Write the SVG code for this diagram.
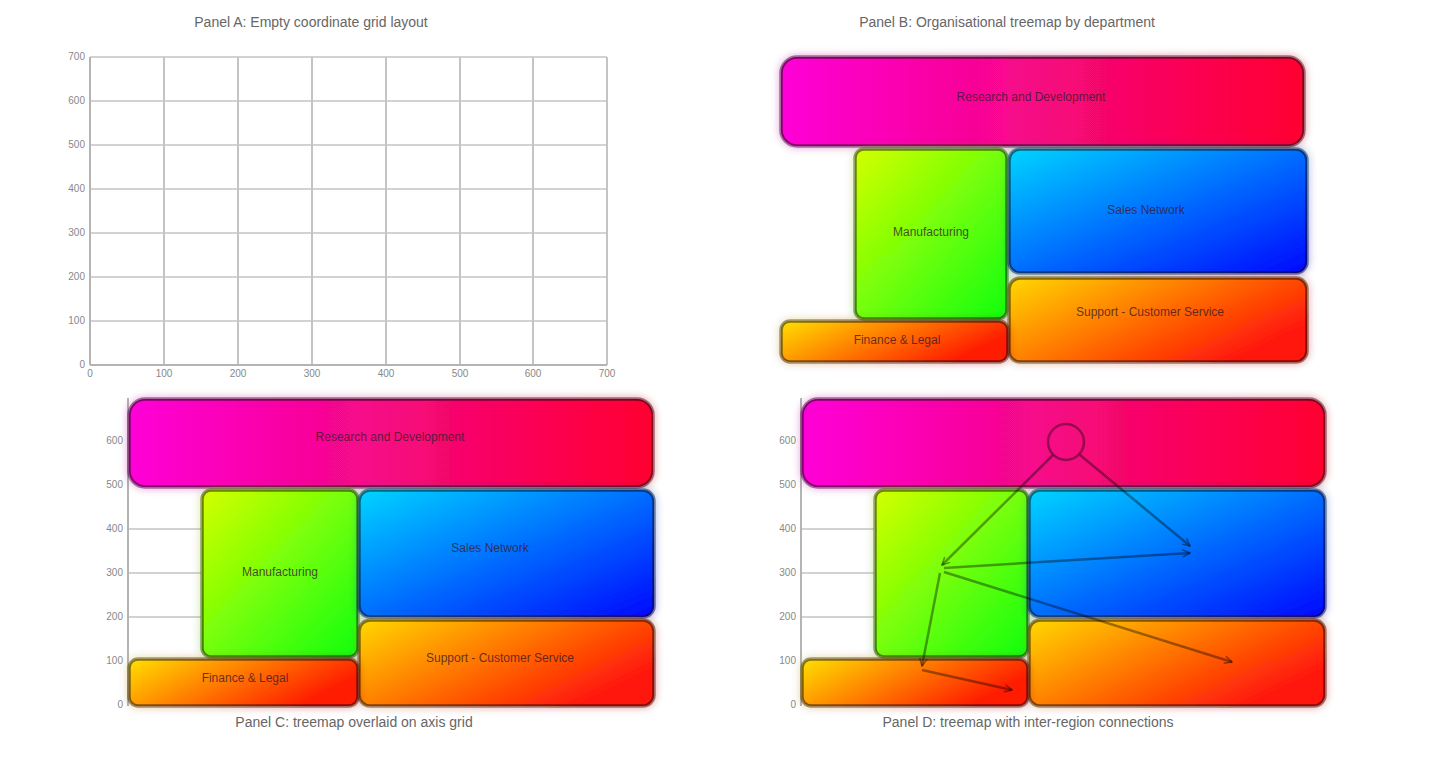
<svg xmlns="http://www.w3.org/2000/svg" width="1441" height="761" viewBox="0 0 1441 761">
<style>
.title{font-family:"Liberation Sans",Arial,sans-serif;font-size:14px;fill:#666;text-anchor:middle}
.tick{font-family:"Liberation Sans",Arial,sans-serif;font-size:10px;fill:#888}
.tl{text-anchor:end}
.tb{text-anchor:middle}
.gv{stroke:#c4c4c4;stroke-width:2}
.gh{stroke:#d2d2d2;stroke-width:2}
.ax{stroke:#b4b4b4;stroke-width:2}
.box{stroke:#000;stroke-opacity:0.48;stroke-width:3.5;filter:url(#glow)}
.lbl{font-family:"Liberation Sans",Arial,sans-serif;font-size:12px;fill:#3a1a2a;fill-opacity:0.8;text-anchor:middle}
.edge{fill:none;stroke:#000;stroke-opacity:0.38;stroke-width:2.5;marker-end:url(#arr)}
</style>
<defs>
<linearGradient id="gMag" x1="0" y1="0" x2="1" y2="0">
<stop offset="0" stop-color="#ff00d8"/><stop offset="0.5" stop-color="#f50880"/><stop offset="1" stop-color="#ff0030"/>
</linearGradient>
<linearGradient id="gGreen" x1="0" y1="0" x2="1" y2="1">
<stop offset="0" stop-color="#d4ff00"/><stop offset="1" stop-color="#10ff10"/>
</linearGradient>
<linearGradient id="gBlue" x1="0" y1="0" x2="1" y2="1">
<stop offset="0" stop-color="#00d4ff"/><stop offset="1" stop-color="#0008ff"/>
</linearGradient>
<linearGradient id="gOrange" x1="0" y1="0" x2="1" y2="0.6">
<stop offset="0" stop-color="#ffd800"/><stop offset="1" stop-color="#ff1408"/>
</linearGradient>
<linearGradient id="gYellow" x1="0" y1="0" x2="1" y2="0.4">
<stop offset="0" stop-color="#ffe000"/><stop offset="1" stop-color="#ff1a00"/>
</linearGradient>
<filter id="glow" x="-10%" y="-25%" width="120%" height="150%">
<feGaussianBlur in="SourceGraphic" stdDeviation="4" result="b"/>
<feComponentTransfer in="b" result="b2"><feFuncA type="linear" slope="0.45"/></feComponentTransfer>
<feMerge><feMergeNode in="b2"/><feMergeNode in="SourceGraphic"/></feMerge>
</filter>
<marker id="arr" viewBox="0 0 12 12" refX="11" refY="6" markerWidth="9" markerHeight="9" orient="auto" markerUnits="userSpaceOnUse">
<path d="M1,1 L11,6 L1,11" fill="none" stroke="#000" stroke-opacity="0.4" stroke-width="2"/>
</marker>
</defs>
<rect width="1441" height="761" fill="#fff"/>

<!-- Panel A: grid -->
<g id="panelA">
<text class="title" x="311" y="27">Panel A: Empty coordinate grid layout</text>
<g id="gridA">
<line class="gh" x1="90" y1="57" x2="607" y2="57"/>
<line class="gh" x1="90" y1="101" x2="607" y2="101"/>
<line class="gh" x1="90" y1="145" x2="607" y2="145"/>
<line class="gh" x1="90" y1="189" x2="607" y2="189"/>
<line class="gh" x1="90" y1="233" x2="607" y2="233"/>
<line class="gh" x1="90" y1="277" x2="607" y2="277"/>
<line class="gh" x1="90" y1="321" x2="607" y2="321"/>
<line class="gv" x1="164" y1="57" x2="164" y2="365"/>
<line class="gv" x1="238" y1="57" x2="238" y2="365"/>
<line class="gv" x1="312" y1="57" x2="312" y2="365"/>
<line class="gv" x1="386" y1="57" x2="386" y2="365"/>
<line class="gv" x1="460" y1="57" x2="460" y2="365"/>
<line class="gv" x1="533" y1="57" x2="533" y2="365"/>
<line class="gv" x1="607" y1="57" x2="607" y2="365"/>
<line class="ax" x1="90" y1="57" x2="90" y2="365"/>
<line class="ax" x1="90" y1="365" x2="607" y2="365"/>
</g>
<g id="ticksA">
<text class="tick tl" x="85" y="368">0</text>
<text class="tick tl" x="85" y="324">100</text>
<text class="tick tl" x="85" y="280">200</text>
<text class="tick tl" x="85" y="236">300</text>
<text class="tick tl" x="85" y="192">400</text>
<text class="tick tl" x="85" y="148">500</text>
<text class="tick tl" x="85" y="104">600</text>
<text class="tick tl" x="85" y="60">700</text>
<text class="tick tb" x="90" y="377">0</text>
<text class="tick tb" x="164" y="377">100</text>
<text class="tick tb" x="238" y="377">200</text>
<text class="tick tb" x="312" y="377">300</text>
<text class="tick tb" x="386" y="377">400</text>
<text class="tick tb" x="460" y="377">500</text>
<text class="tick tb" x="533" y="377">600</text>
<text class="tick tb" x="607" y="377">700</text>
</g>
</g>

<!-- Panel B: treemap -->
<g id="panelB">
<text class="title" x="1007" y="27">Panel B: Organisational treemap by department</text>
<g id="b-research"><rect class="box" x="781" y="57" width="523" height="89" rx="16" fill="url(#gMag)"/><text class="lbl" x="1031" y="101">Research and Development</text></g>
<g id="b-manufacturing"><rect class="box" x="855" y="149" width="152" height="170" rx="9" fill="url(#gGreen)"/><text class="lbl" x="931" y="236">Manufacturing</text></g>
<g id="b-sales"><rect class="box" x="1009" y="149" width="298" height="124" rx="11" fill="url(#gBlue)"/><text class="lbl" x="1146" y="214">Sales Network</text></g>
<g id="b-support"><rect class="box" x="1009" y="278" width="298" height="84" rx="11" fill="url(#gOrange)"/><text class="lbl" x="1150" y="316">Support - Customer Service</text></g>
<g id="b-finance"><rect class="box" x="781" y="321" width="227" height="41" rx="9" fill="url(#gYellow)"/><text class="lbl" x="897" y="344">Finance &amp; Legal</text></g>
</g>

<!-- Panel C: treemap on axes -->
<g id="panelC">
<g id="gridC">
<line class="gh" x1="128" y1="529" x2="201" y2="529"/>
<line class="gh" x1="128" y1="573" x2="201" y2="573"/>
<line class="gh" x1="128" y1="617" x2="201" y2="617"/>
<line class="ax" x1="128" y1="398" x2="128" y2="706"/>
</g>
<g id="ticksC">
<text class="tick tl" x="123" y="444">600</text>
<text class="tick tl" x="123" y="488">500</text>
<text class="tick tl" x="123" y="532">400</text>
<text class="tick tl" x="123" y="576">300</text>
<text class="tick tl" x="123" y="620">200</text>
<text class="tick tl" x="123" y="664">100</text>
<text class="tick tl" x="123" y="708">0</text>
</g>
<g id="c-research"><rect class="box" x="129" y="399" width="524" height="88" rx="16" fill="url(#gMag)"/><text class="lbl" x="390" y="441">Research and Development</text></g>
<g id="c-manufacturing"><rect class="box" x="202" y="490" width="156" height="167" rx="9" fill="url(#gGreen)"/><text class="lbl" x="280" y="576">Manufacturing</text></g>
<g id="c-sales"><rect class="box" x="359" y="490" width="295" height="127" rx="11" fill="url(#gBlue)"/><text class="lbl" x="490" y="552">Sales Network</text></g>
<g id="c-support"><rect class="box" x="359" y="620" width="295" height="86" rx="11" fill="url(#gOrange)"/><text class="lbl" x="500" y="662">Support - Customer Service</text></g>
<g id="c-finance"><rect class="box" x="129" y="659" width="229" height="47" rx="9" fill="url(#gYellow)"/><text class="lbl" x="245" y="682">Finance &amp; Legal</text></g>
<text class="title" x="354" y="727">Panel C: treemap overlaid on axis grid</text>
</g>

<!-- Panel D: treemap with connections -->
<g id="panelD">
<g id="gridD">
<line class="gh" x1="801" y1="529" x2="874" y2="529"/>
<line class="gh" x1="801" y1="573" x2="874" y2="573"/>
<line class="gh" x1="801" y1="617" x2="874" y2="617"/>
<line class="ax" x1="801" y1="398" x2="801" y2="706"/>
</g>
<g id="ticksD">
<text class="tick tl" x="796" y="444">600</text>
<text class="tick tl" x="796" y="488">500</text>
<text class="tick tl" x="796" y="532">400</text>
<text class="tick tl" x="796" y="576">300</text>
<text class="tick tl" x="796" y="620">200</text>
<text class="tick tl" x="796" y="664">100</text>
<text class="tick tl" x="796" y="708">0</text>
</g>
<g id="d-research"><rect class="box" x="802" y="399" width="523" height="88" rx="16" fill="url(#gMag)"/></g>
<g id="d-manufacturing"><rect class="box" x="875" y="490" width="153" height="167" rx="9" fill="url(#gGreen)"/></g>
<g id="d-sales"><rect class="box" x="1029" y="490" width="296" height="127" rx="11" fill="url(#gBlue)"/></g>
<g id="d-support"><rect class="box" x="1029" y="620" width="296" height="86" rx="11" fill="url(#gOrange)"/></g>
<g id="d-finance"><rect class="box" x="802" y="659" width="226" height="47" rx="9" fill="url(#gYellow)"/></g>
<g id="connectors">
<circle cx="1066" cy="442" r="18" fill="none" stroke="#000" stroke-opacity="0.38" stroke-width="2.5"/>
<path class="edge" d="M1053,455 L942,565"/>
<path class="edge" d="M1080,455 L1190,546"/>
<path class="edge" d="M944,568 L1190,553"/>
<path class="edge" d="M944,572 L1232,662"/>
<path class="edge" d="M940,573 L922,666"/>
<path class="edge" d="M922,670 L1012,690"/>
</g>
<text class="title" x="1028" y="727">Panel D: treemap with inter-region connections</text>
</g>
</svg>
